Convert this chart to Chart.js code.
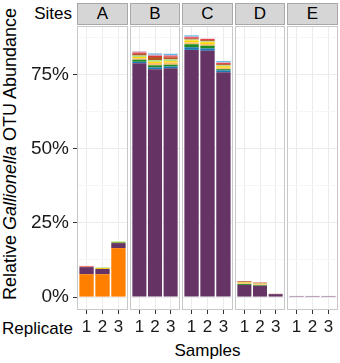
<!DOCTYPE html>
<html>
<head>
<meta charset="utf-8">
<script src="https://cdn.jsdelivr.net/npm/chart.js@4.4.0/dist/chart.umd.min.js"></script>
<style>
  html, body { margin: 0; padding: 0; background: #fff; }
  #wrap { position: relative; width: 340px; height: 363px; overflow: hidden;
          font-family: "Liberation Sans", Arial, sans-serif; color: #000; }
  canvas { position: absolute; }
  .strip { position: absolute; top: 3px; height: 22px; background: #d6d6d6; border: 1px solid #a8a8a8;
           box-sizing: border-box; text-align: center; font-size: 17px; line-height: 20px; }
  .lbl { position: absolute; font-size: 17px; white-space: nowrap; line-height: 20px; }
</style>
</head>
<body>
<div id="wrap">
  <div class="lbl" style="right:268px; top:4px;">Sites</div>
  <div class="lbl" style="left:2px; top:319px;">Replicate</div>
  <div class="lbl" style="left:77px; width:261px; top:341px; text-align:center;">Samples</div>
  <div class="lbl" style="left:-140px; top:144px; width:300px; text-align:center; font-size:18px; transform:rotate(-90deg);">Relative <i>Gallionella</i> OTU Abundance</div>
</div>
<script>
// sites (facets) and replicate ticks
const sites      = ["A", "B", "C", "D", "E"];
const replicates = ["1", "2", "3"];
const yMajor     = [0, 25, 50, 75];
const yMinor     = [12.5, 37.5, 62.5, 87.5];

// % abundance per sample, order A1 A2 A3 B1 B2 B3 ... E3
const otuOrange      = [7.7, 7.7, 16.5,  0, 0, 0,           0, 0, 0,           0, 0, 0,        0, 0, 0];
const otuPurple      = [2.4, 1.8, 1.7,   78.8, 76.8, 77.1,  83.3, 83.0, 75.8,  4.1, 3.8, 1.0,  0.3, 0.3, 0.3];
const otuBlue        = [0, 0, 0,         0.5, 0.6, 0.6,     0.9, 0.8, 0.6,     0, 0, 0,        0, 0, 0];
const otuGreen       = [0, 0, 0.2,       0.7, 0.7, 0.6,     1.0, 0.9, 0.4,     0.3, 0.2, 0,    0, 0, 0];
const otuLightOrange = [0.1, 0, 0,       0.5, 0.8, 0.7,     0.6, 0.6, 0.5,     0.3, 0.3, 0,    0, 0, 0];
const otuYellow      = [0, 0.3, 0.2,     0.4, 0.4, 0.5,     0.7, 0.6, 0.5,     0.2, 0.2, 0,    0, 0, 0];
const otuLightGreen  = [0, 0.2, 0.2,     0.5, 0.6, 0.6,     0.3, 0.3, 0.3,     0.1, 0.1, 0,    0, 0, 0];
const otuBrown       = [0, 0, 0,         0.6, 1.0, 0.6,     0.3, 0.4, 0.4,     0.3, 0.2, 0.1,  0, 0, 0];
const otuRed         = [0.2, 0, 0,       0.3, 0.3, 0.4,     0.4, 0.3, 0.3,     0.1, 0.1, 0,    0, 0, 0];
const otuPink        = [0.1, 0, 0,       0.5, 0.5, 0.5,     0.3, 0.2, 0.3,     0, 0, 0,        0.1, 0.1, 0.1];
const otuLightBlue   = [0, 0, 0,         0, 0.4, 0.4,       0.4, 0, 0.4,       0, 0, 0,        0, 0, 0];

const series = [otuOrange, otuPurple, otuBlue, otuGreen, otuLightOrange, otuYellow,
                otuLightGreen, otuBrown, otuRed, otuPink, otuLightBlue];
const seriesColors = ["#ff7f00", "#653465", "#1f78b4", "#1e8c1e", "#fdbf6f", "#ffd700",
                      "#b2df8a", "#b15928", "#e31a1c", "#d59ab5", "#56b4e9"];

// ── layout ──────────────────────────────────────────────────────────────────
const PANEL_LEFT  = [77, 130, 182, 235, 287];
const PANEL_W     = [51, 50, 51, 50, 51];
const PANEL_TOP   = 26;
const PANEL_H     = 284;
const XAXIS_H     = 32;
const Y_MIN = -4.35, Y_MAX = 91.35;
const FONT   = { family: "'Liberation Sans', Arial, sans-serif", size: 17 };
const FONT_Y = { family: "'Liberation Sans', Arial, sans-serif", size: 19 };

const panelBorder = {
  id: "panelBorder",
  afterDraw(chart) {
    const a = chart.chartArea, ctx = chart.ctx;
    ctx.save();
    ctx.strokeStyle = "#c8c8c8";
    ctx.lineWidth = 1;
    ctx.strokeRect(Math.round(a.left) + 0.5, Math.round(a.top) + 0.5,
                   Math.round(a.right - a.left) - 1, Math.round(a.bottom - a.top) - 1);
    ctx.restore();
  },
};

const wrap = document.getElementById("wrap");

sites.forEach((site, p) => {
  // strip
  const strip = document.createElement("div");
  strip.className = "strip";
  strip.style.left = PANEL_LEFT[p] + "px";
  strip.style.width = PANEL_W[p] + "px";
  strip.textContent = site;
  wrap.appendChild(strip);

  const first = p === 0;
  const yAxisW = first ? PANEL_LEFT[0] : 0;
  const cvLeft = first ? 0 : PANEL_LEFT[p] - 1;
  const cv = document.createElement("canvas");
  cv.width  = yAxisW + PANEL_W[p] + (first ? 1 : 2);
  cv.height = PANEL_H + XAXIS_H + 1;
  cv.style.left = cvLeft + "px";
  cv.style.top  = (PANEL_TOP - 1) + "px";
  wrap.appendChild(cv);

  const datasets = series.map((vals, s) => ({
    data: replicates.map((r, i) => ({ x: i + 1, y: vals[p * 3 + i] })),
    backgroundColor: seriesColors[s],
    borderWidth: 0,
    barPercentage: 0.9,
    categoryPercentage: 1,
  }));

  new Chart(cv.getContext("2d"), {
    type: "bar",
    data: { datasets },
    plugins: [panelBorder],
    options: {
      responsive: false,
      animation: false,
      layout: { padding: { top: 1, left: first ? 0 : 1, right: 1, bottom: 0 } },
      plugins: { legend: { display: false }, tooltip: { enabled: false } },
      scales: {
        x: {
          type: "linear", stacked: true, min: 0.4, max: 3.6, offset: false,
          afterBuildTicks: s => { s.ticks = replicates.map((r, i) => ({ value: i + 1 })); },
          afterFit: s => { s.height = XAXIS_H; s.paddingLeft = 0; s.paddingRight = 0; },
          ticks: { callback: (v, i) => replicates[i], color: "#1a1a1a", font: FONT, padding: 3, maxRotation: 0, autoSkip: false },
          grid: { offset: false, color: "#ebebeb", tickColor: "#333", tickLength: 4, lineWidth: 1 },
          border: { display: false },
        },
        y: {
          stacked: true, min: Y_MIN, max: Y_MAX,
          afterBuildTicks: s => {
            s.ticks = yMajor.concat(yMinor).sort((a, b) => a - b).map(v => ({ value: v }));
          },
          afterFit: s => { s.width = yAxisW; s.paddingTop = 0; s.paddingBottom = 0; },
          ticks: {
            display: first,
            callback: v => yMajor.includes(v) ? v + "%" : "",
            color: "#1a1a1a", font: FONT_Y, padding: 4,
          },
          grid: {
            color: c => yMajor.includes(c.tick.value) ? "#ebebeb" : "#f5f5f5",
            tickColor: c => yMajor.includes(c.tick.value) ? "#333" : "rgba(0,0,0,0)",
            drawTicks: first, tickLength: 4,
          },
          border: { display: false },
        },
      },
    },
  });
});
</script>
</body>
</html>
